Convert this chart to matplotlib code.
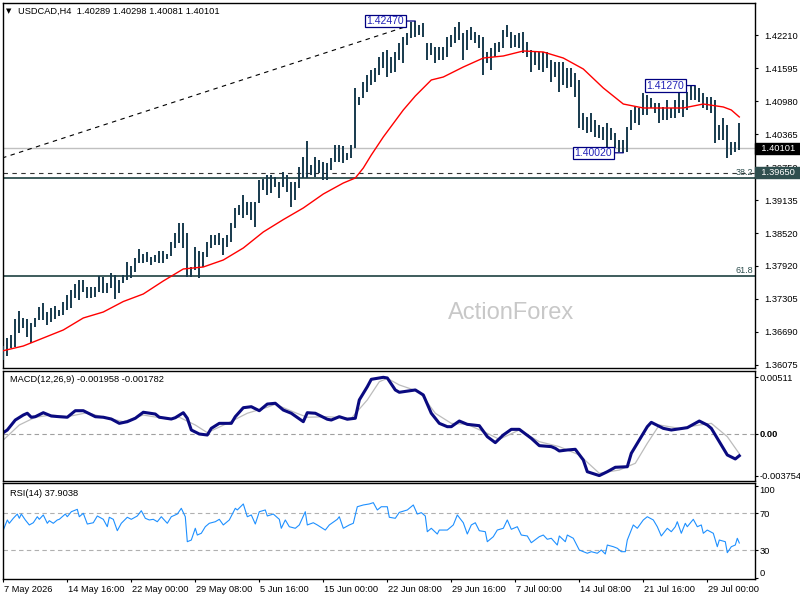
import numpy as np
import matplotlib
matplotlib.use("Agg")
import matplotlib.pyplot as plt
from matplotlib import transforms

plt.rcParams['font.family'] = ['Liberation Sans', 'DejaVu Sans']

# USDCAD H4 bars (high / low), oldest first
highs = [1.36434, 1.36577, 1.36633, 1.36930, 1.37079, 1.36949, 1.36930, 1.36856, 1.36949, 1.37153,
         1.37227, 1.37060, 1.37134, 1.37172, 1.37098, 1.37246, 1.37376, 1.37469, 1.37580, 1.37655,
         1.37655, 1.37525, 1.37525, 1.37525, 1.37729, 1.37710, 1.37599, 1.37785, 1.37748, 1.37655,
         1.37748, 1.37990, 1.37915, 1.38064, 1.38232, 1.38139, 1.38176, 1.38083, 1.38120, 1.38194,
         1.38194, 1.38139, 1.38362, 1.38529, 1.38715, 1.38715, 1.38529, 1.37897, 1.38269, 1.38194,
         1.38176, 1.38362, 1.38492, 1.38492, 1.38529, 1.38436, 1.38492, 1.38715, 1.38994, 1.39050,
         1.39235, 1.39105, 1.39105, 1.39105, 1.39514, 1.39532, 1.39607, 1.39607, 1.39570, 1.39477,
         1.39663, 1.39607, 1.39477, 1.39477, 1.39756, 1.39942, 1.40240, 1.39793, 1.39942, 1.39886,
         1.39849, 1.39830, 1.39923, 1.40165, 1.40165, 1.40147, 1.40016, 1.40165, 1.41225, 1.41058,
         1.41336, 1.41466, 1.41559, 1.41597, 1.41801, 1.41894, 1.41931, 1.41801, 1.41894, 1.42061,
         1.42173, 1.42247, 1.42451, 1.42470, 1.42396, 1.42433, 1.42061, 1.42061, 1.41987, 1.41987,
         1.41987, 1.42173, 1.42210, 1.42359, 1.42451, 1.42247, 1.42303, 1.42359, 1.42266, 1.42210,
         1.42173, 1.41894, 1.41968, 1.42061, 1.42080, 1.42303, 1.42396, 1.42266, 1.42210, 1.42247,
         1.42266, 1.42080, 1.41931, 1.41894, 1.41894, 1.41894, 1.41894, 1.41745, 1.41708, 1.41708,
         1.41708, 1.41597, 1.41597, 1.41504, 1.41373, 1.40760, 1.40686, 1.40760, 1.40630, 1.40537,
         1.40500, 1.40574, 1.40481, 1.40388, 1.40258, 1.40258, 1.40500, 1.40816, 1.40872, 1.40853,
         1.41132, 1.41095, 1.41039, 1.40946, 1.40946, 1.40872, 1.41002, 1.40853, 1.41002, 1.41150,
         1.41002, 1.41150, 1.41262, 1.41270, 1.41225, 1.41132, 1.41058, 1.41058, 1.41002, 1.40537,
         1.40667, 1.40537, 1.40221, 1.40221, 1.40574]
lows = [1.36168, 1.36243, 1.36391, 1.36410, 1.36670, 1.36763, 1.36596, 1.36484, 1.36782, 1.36912,
        1.36912, 1.36819, 1.36874, 1.36930, 1.36986, 1.37004, 1.37098, 1.37134, 1.37320, 1.37283,
        1.37432, 1.37320, 1.37320, 1.37339, 1.37432, 1.37413, 1.37413, 1.37506, 1.37302, 1.37413,
        1.37599, 1.37655, 1.37692, 1.37804, 1.37971, 1.37971, 1.37990, 1.37934, 1.37990, 1.37971,
        1.37971, 1.38045, 1.38101, 1.38250, 1.38343, 1.38250, 1.37710, 1.37710, 1.37841, 1.37692,
        1.37897, 1.38083, 1.38250, 1.38306, 1.38306, 1.38120, 1.38269, 1.38362, 1.38622, 1.38864,
        1.38808, 1.38864, 1.38771, 1.38641, 1.39087, 1.39328, 1.39235, 1.39272, 1.39384, 1.39180,
        1.39384, 1.39291, 1.39013, 1.39142, 1.39365, 1.39551, 1.39551, 1.39607, 1.39570, 1.39644,
        1.39514, 1.39514, 1.39700, 1.39849, 1.39849, 1.39830, 1.39886, 1.39923, 1.40109, 1.40909,
        1.41039, 1.41150, 1.41281, 1.41336, 1.41466, 1.41597, 1.41429, 1.41504, 1.41522, 1.41745,
        1.41689, 1.42024, 1.42154, 1.42173, 1.42210, 1.42173, 1.41745, 1.41838, 1.41689, 1.41745,
        1.41745, 1.41801, 1.41987, 1.42061, 1.42117, 1.41745, 1.41931, 1.42117, 1.42061, 1.41968,
        1.41466, 1.41689, 1.41559, 1.41801, 1.41894, 1.41968, 1.42173, 1.41968, 1.41987, 1.41968,
        1.41875, 1.41801, 1.41522, 1.41652, 1.41559, 1.41522, 1.41597, 1.41336, 1.41429, 1.41150,
        1.41281, 1.41225, 1.41243, 1.41058, 1.40481, 1.40444, 1.40388, 1.40407, 1.40314, 1.40295,
        1.40258, 1.40109, 1.40258, 1.40109, 1.40035, 1.40020, 1.40035, 1.40444, 1.40574, 1.40537,
        1.40723, 1.40723, 1.40853, 1.40760, 1.40574, 1.40630, 1.40630, 1.40667, 1.40667, 1.40760,
        1.40686, 1.40816, 1.41002, 1.41002, 1.40964, 1.40853, 1.40816, 1.40760, 1.40202, 1.40258,
        1.40258, 1.39923, 1.39979, 1.40035, 1.40081]
last_ohlc = [1.40289, 1.40298, 1.40081, 1.40101]

# red moving average
ma_bars = [0, 5, 10, 15, 20, 25, 30, 35, 40, 45, 50, 55, 60, 65, 70, 75, 80, 85, 88, 90, 92, 95,
           100, 103, 105, 107, 110, 115, 120, 125, 130, 135, 140, 145, 150, 155, 160, 165, 170,
           175, 180, 182, 184]
ma_vals = [1.36341, 1.36428, 1.36577, 1.36726, 1.36949, 1.37060, 1.37255, 1.37395, 1.37637, 1.37860,
           1.37897, 1.38027, 1.38250, 1.38548, 1.38778, 1.38994, 1.39254, 1.39458, 1.39551, 1.39737,
           1.39979, 1.40314, 1.40816, 1.41076, 1.41225, 1.41374, 1.41429, 1.41615, 1.41782, 1.41820,
           1.41913, 1.41894, 1.41782, 1.41578, 1.41225, 1.40927, 1.40853, 1.40853, 1.40853, 1.40927,
           1.40872, 1.40816, 1.40686]

# MACD(12,26,9) main and signal
macd_bars = [0, 1, 2, 3, 5, 6, 7, 8, 10, 12, 14, 16, 18, 20, 23, 25, 27, 29, 31, 33, 35, 38, 39, 42,
             43, 45, 46, 47, 49, 51, 52, 54, 57, 58, 60, 62, 64, 66, 68, 70, 72, 75, 76, 78, 81, 82,
             84, 86, 88, 89, 91, 92, 95, 96, 98, 99, 103, 105, 107, 109, 111, 112, 114, 116, 119,
             121, 123, 125, 127, 129, 132, 134, 137, 138, 139, 141, 143, 145, 146, 149, 151, 153,
             156, 157, 159, 161, 162, 165, 167, 171, 174, 176, 177, 179, 181, 183, 184]
macd_vals = [0.00012, 0.00036, 0.00081, 0.00126, 0.00171, 0.00187, 0.00151, 0.00156, 0.00192, 0.00162,
             0.00156, 0.00151, 0.00210, 0.00210, 0.00156, 0.00151, 0.00135, 0.00096, 0.00111, 0.00142,
             0.00196, 0.00180, 0.00151, 0.00135, 0.00147, 0.00192, 0.00142, 0.00036, 0.00000, -0.00009,
             0.00051, 0.00096, 0.00096, 0.00156, 0.00237, 0.00246, 0.00210, 0.00270, 0.00277, 0.00216,
             0.00187, 0.00111, 0.00192, 0.00187, 0.00133, 0.00126, 0.00156, 0.00133, 0.00142, 0.00307,
             0.00426, 0.00493, 0.00511, 0.00505, 0.00397, 0.00376, 0.00397, 0.00352, 0.00187, 0.00096,
             0.00066, 0.00066, 0.00117, 0.00087, 0.00075, -0.00024, -0.00078, -0.00009, 0.00042, 0.00042,
             -0.00039, -0.00105, -0.00114, -0.00129, -0.00153, -0.00144, -0.00138, -0.00234, -0.00340,
             -0.00375, -0.00340, -0.00300, -0.00295, -0.00174, -0.00054, 0.00066, 0.00105, 0.00051,
             0.00036, 0.00057, 0.00117, 0.00081, 0.00051, -0.00069, -0.00189, -0.00225, -0.00196]
signal_bars = [0, 4, 8, 12, 16, 21, 24, 30, 35, 41, 44, 48, 51, 56, 61, 66, 68, 73, 76, 81, 87, 91,
               94, 96, 99, 104, 108, 112, 116, 121, 124, 129, 134, 139, 144, 149, 154, 158, 161, 164,
               169, 174, 177, 181, 184]
signal_vals = [-0.00054, 0.00081, 0.00151, 0.00171, 0.00156, 0.00192, 0.00162, 0.00111, 0.00171,
               0.00135, 0.00151, 0.00081, 0.00012, 0.00096, 0.00187, 0.00241, 0.00268, 0.00192,
               0.00151, 0.00156, 0.00142, 0.00307, 0.00471, 0.00502, 0.00442, 0.00381, 0.00187,
               0.00096, 0.00087, 0.00006, -0.00048, 0.00036, -0.00069, -0.00114, -0.00189, -0.00354,
               -0.00325, -0.00264, -0.00084, 0.00081, 0.00051, 0.00081, 0.00096, -0.00024, -0.00178]
macd_now, signal_now = -0.001958, -0.001782

# RSI(14)
rsi_bars = [0, 1, 1.5, 2.5, 3.5, 4, 4.5, 5.5, 6.5, 7.5, 8.5, 9, 10, 11, 11.5, 12.5, 13.5, 14, 15.5, 16,
            17, 18.5, 19, 20, 21, 22.5, 23.5, 25, 26, 26.5, 27.5, 28.5, 29.5, 31, 32, 33.5, 34.5, 35.5,
            36.5, 37.5, 38.5, 39.5, 41, 42, 43.5, 44.5, 45.5, 46, 47, 48, 48.5, 49.5, 50.5, 51.5, 53,
            54, 55, 56.5, 58, 58.5, 60, 61, 62, 63, 64, 65.5, 66, 67.5, 69, 69.5, 70.5, 71.5, 73, 74,
            75.5, 76, 77.5, 78.5, 80.5, 81.5, 83.5, 84, 85, 86.5, 87.5, 88.5, 90, 91.5, 92.5, 93.5,
            94.5, 96, 96.5, 98, 99, 101, 102.5, 103.5, 104.5, 105.5, 106, 107, 108.5, 109, 111, 112.5,
            113.5, 115, 116, 117, 118, 119, 120.5, 121, 122.5, 123.5, 125, 126, 127, 128.5, 129.5, 131,
            132, 133.5, 134, 135, 136, 137, 138.5, 139, 140.5, 141, 142.5, 144, 146, 147, 148.5, 149.5,
            150.5, 151, 152.5, 153.5, 154.5, 155.5, 156, 157.5, 158.5, 160, 161, 162.5, 163.5, 164.5,
            166, 167, 168, 168.5, 169.5, 170.5, 171, 172.5, 173.5, 174.5, 175, 176, 177.5, 178.5, 179,
            180.5, 181, 182, 183, 183.5, 184]
rsi_vals = [51.9, 62.8, 59.2, 64.6, 69.2, 64.6, 69.2, 62.8, 57.4, 59.8, 66.3, 63.5, 68.2, 59.2, 62.0,
            59.2, 62.8, 63.5, 69.2, 66.3, 71.7, 74.3, 66.3, 70.0, 58.4, 59.8, 67.1, 63.5, 55.5, 65.7,
            63.5, 51.2, 59.2, 65.7, 63.5, 67.1, 72.8, 64.6, 62.8, 63.5, 60.9, 66.3, 59.2, 66.3, 69.2,
            75.4, 66.3, 39.3, 41.1, 53.8, 46.5, 48.4, 55.5, 59.2, 60.9, 63.5, 57.4, 62.8, 75.4, 73.6,
            80.1, 66.3, 68.2, 58.4, 71.7, 73.6, 67.1, 69.2, 63.5, 53.8, 62.8, 55.5, 53.8, 57.4, 71.7,
            57.4, 59.8, 57.4, 51.9, 57.4, 63.5, 66.3, 53.8, 57.4, 59.2, 77.1, 79.0, 80.1, 81.5, 73.6,
            77.1, 77.1, 65.7, 64.6, 71.0, 73.6, 79.0, 69.2, 70.7, 67.1, 50.1, 53.8, 47.6, 51.9, 51.9,
            57.4, 68.2, 59.8, 47.6, 57.4, 59.8, 51.2, 50.1, 39.3, 44.7, 51.9, 53.8, 62.8, 52.7, 55.5,
            46.5, 45.5, 38.2, 43.0, 44.7, 46.5, 41.9, 43.0, 35.7, 45.5, 39.3, 46.5, 43.0, 30.3, 26.8,
            28.5, 26.8, 30.3, 26.0, 35.7, 33.9, 32.2, 28.5, 28.5, 41.1, 57.4, 53.8, 62.8, 66.3, 62.8,
            55.5, 45.5, 53.8, 50.1, 55.5, 60.9, 48.4, 59.2, 55.5, 63.5, 55.5, 57.4, 48.4, 51.9, 48.4,
            33.9, 41.1, 39.3, 27.4, 33.9, 35.7, 43.0, 37.9]
rsi_now = 37.9038

date_labels = ["7 May 2026", "14 May 16:00", "22 May 00:00", "29 May 08:00", "5 Jun 16:00",
               "15 Jun 00:00", "22 Jun 08:00", "29 Jun 16:00", "7 Jul 00:00", "14 Jul 08:00",
               "21 Jul 16:00", "29 Jul 00:00"]
price_ticks = [1.42210, 1.41595, 1.40980, 1.40365, 1.39750, 1.39135, 1.38520, 1.37920, 1.37305,
               1.36690, 1.36075]
macd_ticks = [0.00511, 0.0, -0.003754]
macd_tick_labels = ["0.00511", "0.00", "-0.003754"]
rsi_ticks = [100, 70, 30, 0]

# drawn objects
trend_bars = [-0.3, 100.4]
trend_prices = [1.39923, 1.42359]
fib_names = ["38.2", "61.8"]
fib_prices = [1.39551, 1.37729]
support = 1.39650
bid = last_ohlc[3]

bar_color = '#173a4d'
n = len(highs)
x = np.arange(n)

fig = plt.figure(figsize=(8, 6), dpi=100)
fig.patch.set_facecolor('white')

def panel(top, bottom):
    a = fig.add_axes([2.5 / 800, 1 - bottom / 600, 752 / 800, (bottom - top) / 600])
    a.set_xlim(-0.2, 187.8)
    for s in a.spines.values():
        s.set_linewidth(1.0)
        s.set_color('black')
    a.yaxis.tick_right()
    a.tick_params(axis='y', direction='out', length=2.2, width=0.8, labelsize=6.7, pad=3.5)
    a.tick_params(axis='x', bottom=False, labelbottom=False)
    return a

ax = panel(3, 368)
ax_macd = panel(371, 481)
ax_rsi = panel(483, 579)

# ---- price panel
ax.set_ylim(1.36019, 1.42805)
ax.axhline(bid, color='#c0c0c0', lw=1.0, zorder=1)
ax.axhline(support, color='#333333', lw=0.8, ls=(0, (4, 4)), zorder=1)
trans = transforms.blended_transform_factory(ax.transAxes, ax.transData)
for name, p in zip(fib_names, fib_prices):
    ax.axhline(p, color='#2f4f4f', lw=1.3, zorder=1)
    ax.text(0.998, p + 0.0002, name, transform=trans, ha='right', va='bottom',
            fontsize=6.5, color='#2f4f4f')
ax.plot(trend_bars, trend_prices, color='black', lw=0.8, ls=(0, (4, 4)), zorder=2)

ax.text(0.676, 0.151, 'ActionForex', transform=ax.transAxes, ha='center', va='center',
        fontsize=17, color='#c8c8c8', zorder=0)

ax.vlines(x, lows, highs, colors=bar_color, lw=1.4, zorder=3)
ax.plot(ma_bars, ma_vals, color='red', lw=1.0, zorder=4)

# swing labels
hi_i = int(np.argmax(highs))
mid_i = 160 + int(np.argmax(highs[160:]))
lo_i = 140 + int(np.argmin(lows[140:170]))
for txt, idx, p in [("1.42470", hi_i, highs[hi_i]), ("1.41270", mid_i, highs[mid_i]),
                    ("1.40020", lo_i, lows[lo_i])]:
    ax.annotate(txt, xy=(idx, p), xytext=(-11, 0), textcoords='offset pixels',
                ha='right', va='center', fontsize=7.5, color='#2323b8', zorder=6,
                bbox=dict(boxstyle='square,pad=0.12', fc='white', ec='#000080', lw=0.9),
                arrowprops=dict(arrowstyle='-', color='#000080', lw=0.9, shrinkA=0, shrinkB=0))

ax.set_yticks(price_ticks)
ax.set_yticklabels([f"{t:.5f}" for t in price_ticks])
ax.tick_params(axis='y', pad=5)

# price tags on the right scale
for p, txt, bg in [(bid, "1.40101", 'black'), (support, "1.39650", '#2f4f4f')]:
    ax.annotate("  " + txt + "  ", xy=(1, p), xycoords=trans, xytext=(1, 0),
                textcoords='offset pixels', ha='left', va='center', fontsize=6.7,
                color='white', annotation_clip=False, zorder=10,
                bbox=dict(boxstyle='square,pad=0.1', fc=bg, ec=bg))

fig.text(9 / 800, 1 - 11 / 600, '\u25bc', fontsize=5, ha='center', va='center',
         family='DejaVu Sans')
fig.text(18 / 800, 1 - 11 / 600, "USDCAD,H4  " + " ".join(f"{v:.5f}" for v in last_ohlc),
         fontsize=6.7, va='center')

# ---- MACD panel
ax_macd.set_ylim(-0.004237, 0.005679)
ax_macd.axhline(0, color='#a0a0a0', lw=0.8, ls=(0, (4, 3)))
ax_macd.plot(signal_bars, signal_vals, color='#bcbcbc', lw=0.9)
ax_macd.plot(macd_bars, macd_vals, color='#0a0a80', lw=2.2)
ax_macd.set_yticks(macd_ticks)
ax_macd.set_yticklabels(macd_tick_labels)
ax_macd.tick_params(axis='y', pad=1.5)
ax_macd.get_yticklabels()[1].set_fontweight('bold')
ax_macd.text(7 / 752, 1 - 9 / 110, f"MACD(12,26,9) {macd_now:.6f} {signal_now:.6f}",
             transform=ax_macd.transAxes, fontsize=6.7, va='center')

# ---- RSI panel
ax_rsi.set_ylim(-1.03, 102.76)
for lvl in [70, 30]:
    ax_rsi.axhline(lvl, color='#b0b0b0', lw=0.8, ls=(0, (4, 3)))
ax_rsi.plot(rsi_bars, rsi_vals, color='#1e90ff', lw=0.8)
ax_rsi.set_yticks(rsi_ticks)
ax_rsi.set_yticklabels([str(t) for t in rsi_ticks])
ax_rsi.tick_params(axis='y', pad=1.5)
labs = ax_rsi.get_yticklabels()
labs[0].set_va('top')
labs[-1].set_va('bottom')
ax_rsi.text(7 / 752, 1 - 10 / 96, f"RSI(14) {rsi_now:.4f}", transform=ax_rsi.transAxes,
            fontsize=6.7, va='center')

ax_rsi.set_xticks(np.arange(len(date_labels)) * 16)
ax_rsi.set_xticklabels(date_labels)
ax_rsi.tick_params(axis='x', bottom=True, labelbottom=True, direction='out', length=2.5,
                   width=0.8, labelsize=6.7, pad=2)
shift = transforms.ScaledTranslation(1 / 100, 0, fig.dpi_scale_trans)
for lab in ax_rsi.get_xticklabels():
    lab.set_ha('left')
    lab.set_transform(lab.get_transform() + shift)

fig.savefig('out.png', dpi=100, facecolor='white')
